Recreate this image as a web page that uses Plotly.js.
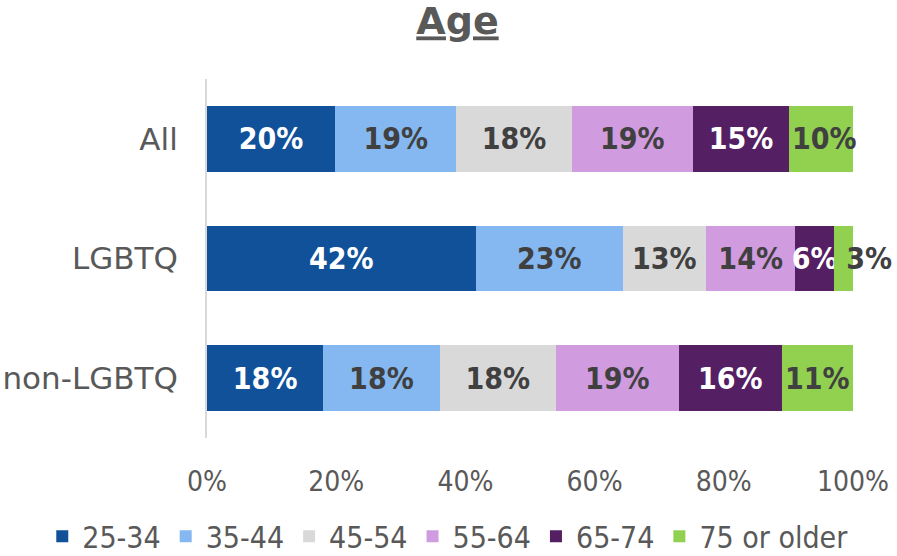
<!DOCTYPE html>
<html>
<head>
<meta charset="utf-8">
<script src="https://cdn.plot.ly/plotly-3.0.1.min.js"></script>
<style>html,body{margin:0;padding:0;background:#fff;}#chart{width:897px;height:556px;}</style>
</head>
<body>
<div id="chart"></div>
<script>
// Data
const groups = ["All", "LGBTQ", "non-LGBTQ"];
const ageBands = ["25-34", "35-44", "45-54", "55-64", "65-74", "75 or older"];
const v25_34 = [20, 42, 18];
const v35_44 = [19, 23, 18];
const v45_54 = [18, 13, 18];
const v55_64 = [19, 14, 19];
const v65_74 = [15, 6, 16];
const v75plus = [10, 3, 11];
const xTicks = [0, 20, 40, 60, 80, 100];

const seriesValues = [v25_34, v35_44, v45_54, v55_64, v65_74, v75plus];
const colors = ["#11519A", "#85B8F0", "#D9D9D9", "#D09BDF", "#551F63", "#92D050"];
const textColors = ["#FFFFFF", "#404040", "#404040", "#404040", "#FFFFFF", "#404040"];
const labelFont = "DejaVu Sans Condensed, DejaVu Sans, sans-serif";

const traces = seriesValues.map((vals, i) => {
  const isLast = i === seriesValues.length - 1;
  return {
    type: "bar",
    orientation: "h",
    name: ageBands[i],
    y: groups,
    x: vals,
    // very small last segments get their label pushed right (as in the reference)
    text: vals.map(v => (isLast && v < 5 ? "\u00a0" : "") + v + "%"),
    textposition: "inside",
    insidetextanchor: isLast ? "start" : "middle",
    constraintext: "none",
    cliponaxis: false,
    textangle: 0,
    insidetextfont: {family: labelFont, size: 30, color: textColors[i], weight: "bold"},
    marker: {color: colors[i], line: {width: 0}},
    hoverinfo: "skip"
  };
});

const layout = {
  width: 897,
  height: 556,
  barmode: "stack",
  barnorm: "percent",
  bargap: 0.45,
  margin: {l: 207, r: 44, t: 79, b: 118, autoexpand: false},
  paper_bgcolor: "#FFFFFF",
  plot_bgcolor: "#FFFFFF",
  font: {family: labelFont, color: "#595959"},
  title: {
    text: "<u><b>Age</b></u>",
    font: {family: "DejaVu Sans, sans-serif", size: 38, color: "#595959"},
    x: 0.51, xanchor: "center",
    xref: "container", yref: "container",
    y: 0.962, yanchor: "middle"
  },
  xaxis: {
    range: [0, 100],
    tickvals: xTicks,
    ticktext: xTicks.map(t => t + "%"),
    showgrid: false,
    zeroline: false,
    showline: false,
    ticks: "",
    ticklabelstandoff: 24,
    tickfont: {family: labelFont, size: 28, color: "#595959"},
    fixedrange: true
  },
  yaxis: {
    categoryorder: "array",
    categoryarray: groups,
    autorange: "reversed",
    showgrid: false,
    zeroline: false,
    showline: true,
    linecolor: "#D9D9D9",
    linewidth: 2,
    ticks: "",
    ticklabelstandoff: 21,
    tickfont: {family: "DejaVu Sans, sans-serif", size: 31, color: "#595959"},
    fixedrange: true
  },
  legend: {
    orientation: "h",
    xref: "paper", yref: "paper",
    x: -0.255, xanchor: "left",
    y: -0.274, yanchor: "middle",
    font: {family: labelFont, size: 30, color: "#595959"},
    itemwidth: 30,
    traceorder: "normal"
  },
  showlegend: true
};

Plotly.newPlot("chart", traces, layout, {staticPlot: true, displayModeBar: false});
</script>
</body>
</html>
